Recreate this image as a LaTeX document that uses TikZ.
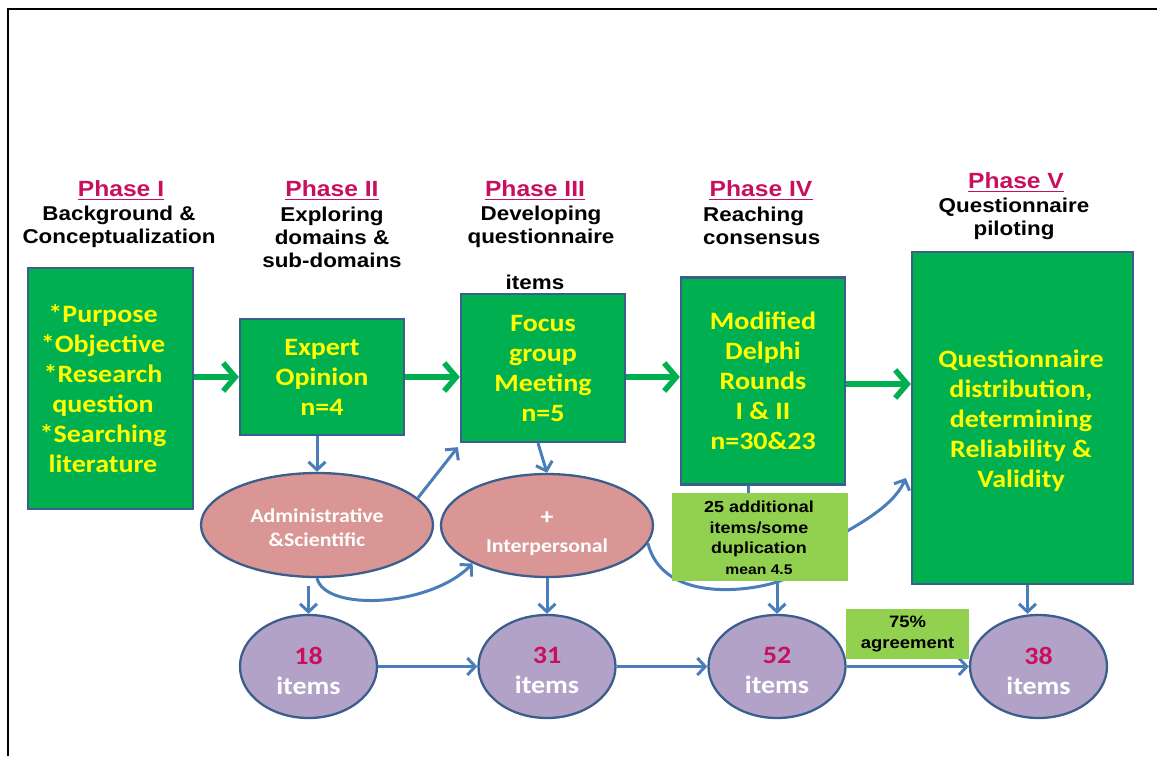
\documentclass[tikz,border=0pt]{standalone}
\usepackage{fontspec}
\usetikzlibrary{shapes.geometric,arrows.meta,calc}
\newfontfamily\hdfont[FakeStretch=1.12]{Liberation Sans}
\newfontfamily\cbfont[FakeStretch=1.12]{Carlito}
\definecolor{boxgreen}{HTML}{00B050}
\definecolor{lightgreen}{HTML}{92D050}
\definecolor{edgeblue}{HTML}{3B5E8C}
\definecolor{arrowblue}{HTML}{4A7EBB}
\definecolor{phasered}{HTML}{C8105E}
\definecolor{pinkfill}{HTML}{D99694}
\definecolor{lilac}{HTML}{B3A2C7}
\definecolor{textyellow}{HTML}{FFFF00}
\begin{document}
\begin{tikzpicture}[x=1pt,y=-1pt,
  phasehead/.style={font=\hdfont\bfseries\fontsize{22}{26}\selectfont, text=phasered, inner sep=0, anchor=base},
  headrule/.style={draw=phasered, line width=1.6pt},
  phasetext/.style={font=\hdfont\bfseries\fontsize{20}{23}\selectfont, align=center, inner sep=0},
  stagebox/.style={draw=edgeblue, line width=2.3pt, fill=boxgreen, text=textyellow,
    font=\cbfont\bfseries\fontsize{25}{30}\selectfont, align=center, inner sep=0},
  domainoval/.style={ellipse, draw=edgeblue, line width=2.3pt, fill=pinkfill, inner sep=0},
  domaintext/.style={text=white, font=\cbfont\bfseries\fontsize{19.5}{24}\selectfont, align=center, inner sep=0},
  countoval/.style={ellipse, draw=edgeblue, line width=2.3pt, fill=lilac, minimum width=137pt,
    minimum height=103pt, inner sep=0},
  counttext/.style={align=center, text=white, inner sep=0,
    font=\cbfont\bfseries\fontsize{25}{30}\selectfont},
  notebox/.style={fill=lightgreen, inner sep=0, align=center},
  flowarrow/.style={draw=boxgreen, line width=5.5pt, -{Straight Barb[length=12pt,width=28pt]}},
  linkarrow/.style={draw=arrowblue, line width=3pt, -{Straight Barb[length=8pt,width=17pt]}},
]
\useasboundingbox (0,0) rectangle (1157,756);
% page frame
\draw[line width=2pt] (8,756) -- (8,9) -- (1157,9);

% phase headings
\node[phasehead] (ph1) at (121,196) {Phase I};
\node[phasetext] (ph1t) at (119,227) {Background \&\\Conceptualization};
\node[phasehead] (ph2) at (332,196) {Phase II};
\node[phasetext] (ph2t) at (332,237) {Exploring\\domains \&\\sub-domains};
\node[phasehead] (ph3) at (535,196) {Phase III};
\node[phasetext] (ph3t) at (541,227) {Developing\\questionnaire};
\node[phasetext] (ph3i) at (535,282) {items};
\node[phasehead] (ph4) at (761,196) {Phase IV};
\node[phasetext, anchor=west, align=left] (ph4t) at (703,226) {Reaching\\consensus};
\node[phasehead] (ph5) at (1016,188) {Phase V};
\node[phasetext] (ph5t) at (1014,219) {Questionnaire\\piloting};
\foreach \h in {ph1,ph2,ph3,ph4,ph5}
  \draw[headrule] ([yshift=-3.5pt]\h.base west) -- ([yshift=-3.5pt]\h.base east);

% stage boxes
\node[stagebox, minimum width=165pt, minimum height=241pt] (s1) at (110.5,388.5) {};
\node[stagebox, draw=none, fill=none] (s1t) at (103,388.5)
  {*Purpose\\*Objective\\*Research\\question\\*Searching\\literature};
\node[stagebox, minimum width=164pt, minimum height=116pt] (s2) at (322,377)
  {Expert\\Opinion\\n=4};
\node[stagebox, minimum width=164pt, minimum height=148pt] (s3) at (543,368)
  {Focus\\group\\Meeting\\n=5};
\node[stagebox, minimum width=164pt, minimum height=207pt] (s4) at (763,381)
  {Modified\\Delphi\\Rounds\\I \& II\\n=30\&23};
\node[stagebox, minimum width=221pt, minimum height=332pt] (s5) at (1022.5,418) {};
\node[stagebox, draw=none, fill=none] (s5t) at (1021,421)
  {Questionnaire\\distribution,\\determining\\Reliability \&\\Validity};

% domain ellipses
\node[domainoval, minimum width=232pt, minimum height=104pt] (adm) at (317,525) {};
\node[domaintext] (admt) at (317,528) {Administrative\\\&Scientific};
\node[domainoval, minimum width=212pt, minimum height=103pt] (ipr) at (547,525.5) {};
\node[domaintext] (iprt) at (547,533.5) {{\fontsize{23}{24}\selectfont +}\\[4pt]Interpersonal};

% item counts
\foreach \n/\x in {18/308.5, 31/547, 52/777, 38/1038.5} {
  \node[countoval] (c\n) at (\x,666.5) {};
  \node[counttext] (c\n t) at (\x,670.5) {\textcolor{phasered}{\n}\\items};
}

% main flow between stages
\draw[flowarrow] (s1.east |- s2.west) -- (s2.west);
\draw[flowarrow] (s2.east) -- (s2.east -| s3.west);
\draw[flowarrow] ([yshift=-9pt]s3.east) -- ([yshift=-9pt]s3.east -| s4.west);
\draw[flowarrow] ([yshift=-3pt]s4.east) -- ([yshift=-3pt]s4.east -| s5.west);

% domain links
\draw[linkarrow] (adm.north |- s2.south) -- (adm.north);
\draw[linkarrow] (adm.15) -- ([shift={(-2pt,-4pt)}]s3.south west);
\draw[linkarrow] ([xshift=-5pt]s3.south) -- (ipr.north);
\draw[linkarrow] (adm.south) .. controls (325,612) and (430,607) .. (ipr.207);
\coordinate (s5in) at ([xshift=-5pt,yshift=-60pt]s5.west);
\draw[linkarrow] (ipr.-10) .. controls (662,598) and (735,593) .. (770,584)
  .. controls (810,574) and (832,540) .. (849,530)
  .. controls (875,515) and (896,500) .. (s5in);
\draw[arrowblue, line width=3pt] ([xshift=-15pt]s4.south) -- ([xshift=-15pt]s4.south |- 0,500);

% links down to the item counts
\draw[linkarrow] ([yshift=-8pt]adm.south -| c18.north) -- (c18.north);
\draw[linkarrow] (ipr.south) -- (c31.north);
\draw[linkarrow] (c52.north |- 0,582) -- (c52.north);
\draw[linkarrow] ([xshift=5pt]s5.south) -- ([xshift=5pt]s5.south |- c38.north);

% item count progression
\draw[linkarrow] (c18.east) -- (c31.west);
\draw[linkarrow] (c31.east) -- (c52.west);
\draw[linkarrow] (c52.east) -- (c38.west);

% notes
\node[notebox, minimum width=176pt, minimum height=88pt] (n25) at (760,537) {};
\node[align=center, inner sep=0, font=\hdfont\bfseries\fontsize{16}{20.5}\selectfont] (n25t) at (759,538)
  {25 additional\\items/some\\duplication\\{\fontsize{14}{19}\selectfont mean 4.5}};
\node[notebox, minimum width=123pt, minimum height=50pt, font=\hdfont\bfseries\fontsize{16.5}{21}\selectfont]
  (n75) at (907.5,634) {75\%\\agreement};
\end{tikzpicture}
\end{document}
